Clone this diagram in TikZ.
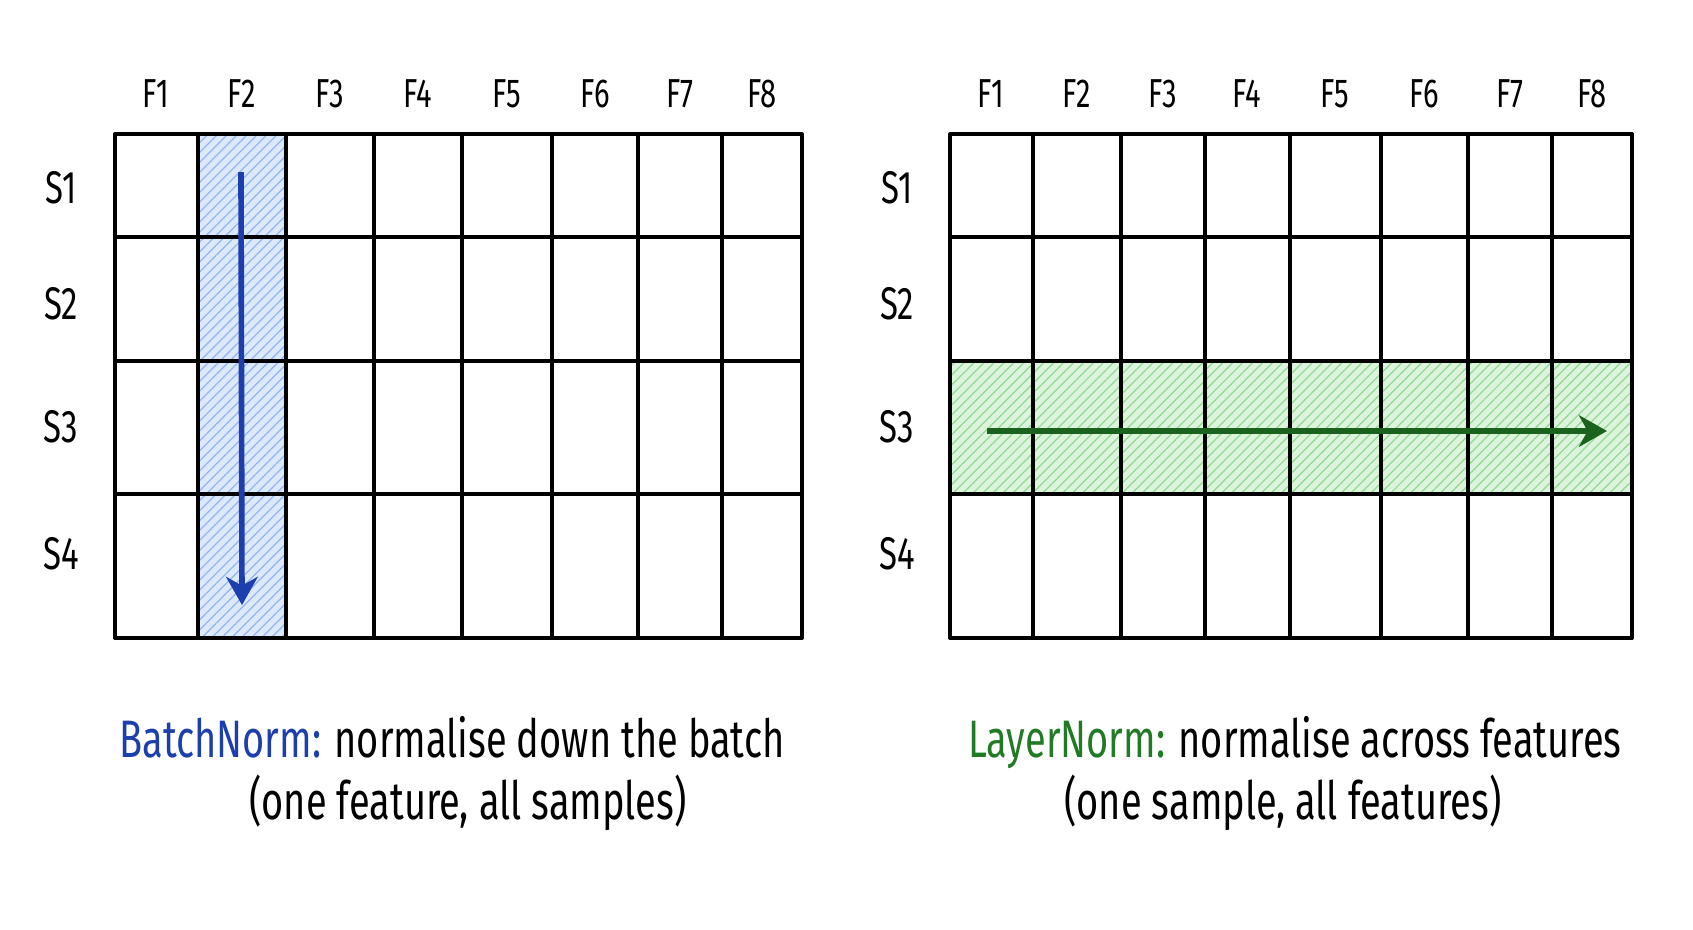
\documentclass[tikz,border=0pt]{standalone}
\usepackage{fontspec}
\newfontfamily\hand[FakeStretch=0.72]{Fira Sans}
\usetikzlibrary{arrows.meta, patterns.meta}
\tikzset{>={Stealth[length=8pt,width=9pt,inset=2.5pt]}}
\definecolor{bnblue}{HTML}{1D3FAE}
\definecolor{bnfill}{HTML}{DCE8FB}
\definecolor{bnhatch}{HTML}{93B6EF}
\definecolor{lngreen}{HTML}{1A621E}
\definecolor{lntext}{HTML}{217A24}
\definecolor{lnfill}{HTML}{DCF4DC}
\definecolor{lnhatch}{HTML}{93D893}
\tikzset{
  gridline/.style = {line width=1pt, line cap=round},
  featlabel/.style = {font=\hand\fontsize{11.5}{14}\selectfont, anchor=base},
  samplabel/.style = {font=\hand\fontsize{13}{16}\selectfont, anchor=base},
  caption/.style = {font=\hand\fontsize{15}{18}\selectfont, anchor=base},
  hatched/.style = {preaction={fill=#1fill}, pattern={Lines[angle=45,distance=2pt,line width=0.35pt]}, pattern color=#1hatch},
  normarrow/.style = {->, line width=1.6pt, #1}
}

\begin{document}
\begin{tikzpicture}[x=0.01cm, y=-0.01cm]
		\useasboundingbox (0,0) rectangle (1693,929);

		% Bands
		\path[hatched=bn] (198,134) rectangle (286,638);
		\path[hatched=ln] (950,361) rectangle (1632,494);

		% Left grid
		\foreach \x in {115,198,286,374,462,552,638,722,802}
			\draw[gridline] (\x,134) -- (\x,638);
		\foreach \y in {134,237,361,494,638}
			\draw[gridline] (115,\y) -- (802,\y);

		% Right grid
		\foreach \x in {950,1033,1121,1205,1290,1381,1468,1552,1632}
			\draw[gridline] (\x,134) -- (\x,638);
		\foreach \y in {134,237,361,494,638}
			\draw[gridline] (950,\y) -- (1632,\y);

		% Labels
		\foreach \x/\n in {156/1,242/2,330/3,418/4,507/5,595/6,680/7,762/8}
			\node[featlabel] (lf\n) at (\x,107) {F\n};
		\foreach \x/\n in {991/1,1077/2,1163/3,1247/4,1335/5,1424/6,1510/7,1592/8}
			\node[featlabel] (rf\n) at (\x,107) {F\n};
		\foreach \y/\n in {203/1,319/2,442/3,569/4} {
			\node[samplabel] (ls\n) at (61,\y) {S\n};
			\node[samplabel] (rs\n) at (897,\y) {S\n};
		}

		% Arrows
		\coordinate (bntop) at (241,172);
		\coordinate (bnbot) at (242,605);
		\draw[normarrow=bnblue] (bntop) -- (bnbot);
		\coordinate (lnleft) at (987,431);
		\coordinate (lnright) at (1607,431);
		\draw[normarrow=lngreen] (lnleft) -- (lnright);

		% Captions
		\node[caption] (bncap) at (452,757) {\textcolor{bnblue}{BatchNorm:} normalise down the batch};
		\node[caption] (bnsub) at (468,819) {(one feature, all samples)};
		\node[caption] (lncap) at (1295,757) {\textcolor{lntext}{LayerNorm:} normalise across features};
		\node[caption] (lnsub) at (1283,819) {(one sample, all features)};
	\end{tikzpicture}
\end{document}
